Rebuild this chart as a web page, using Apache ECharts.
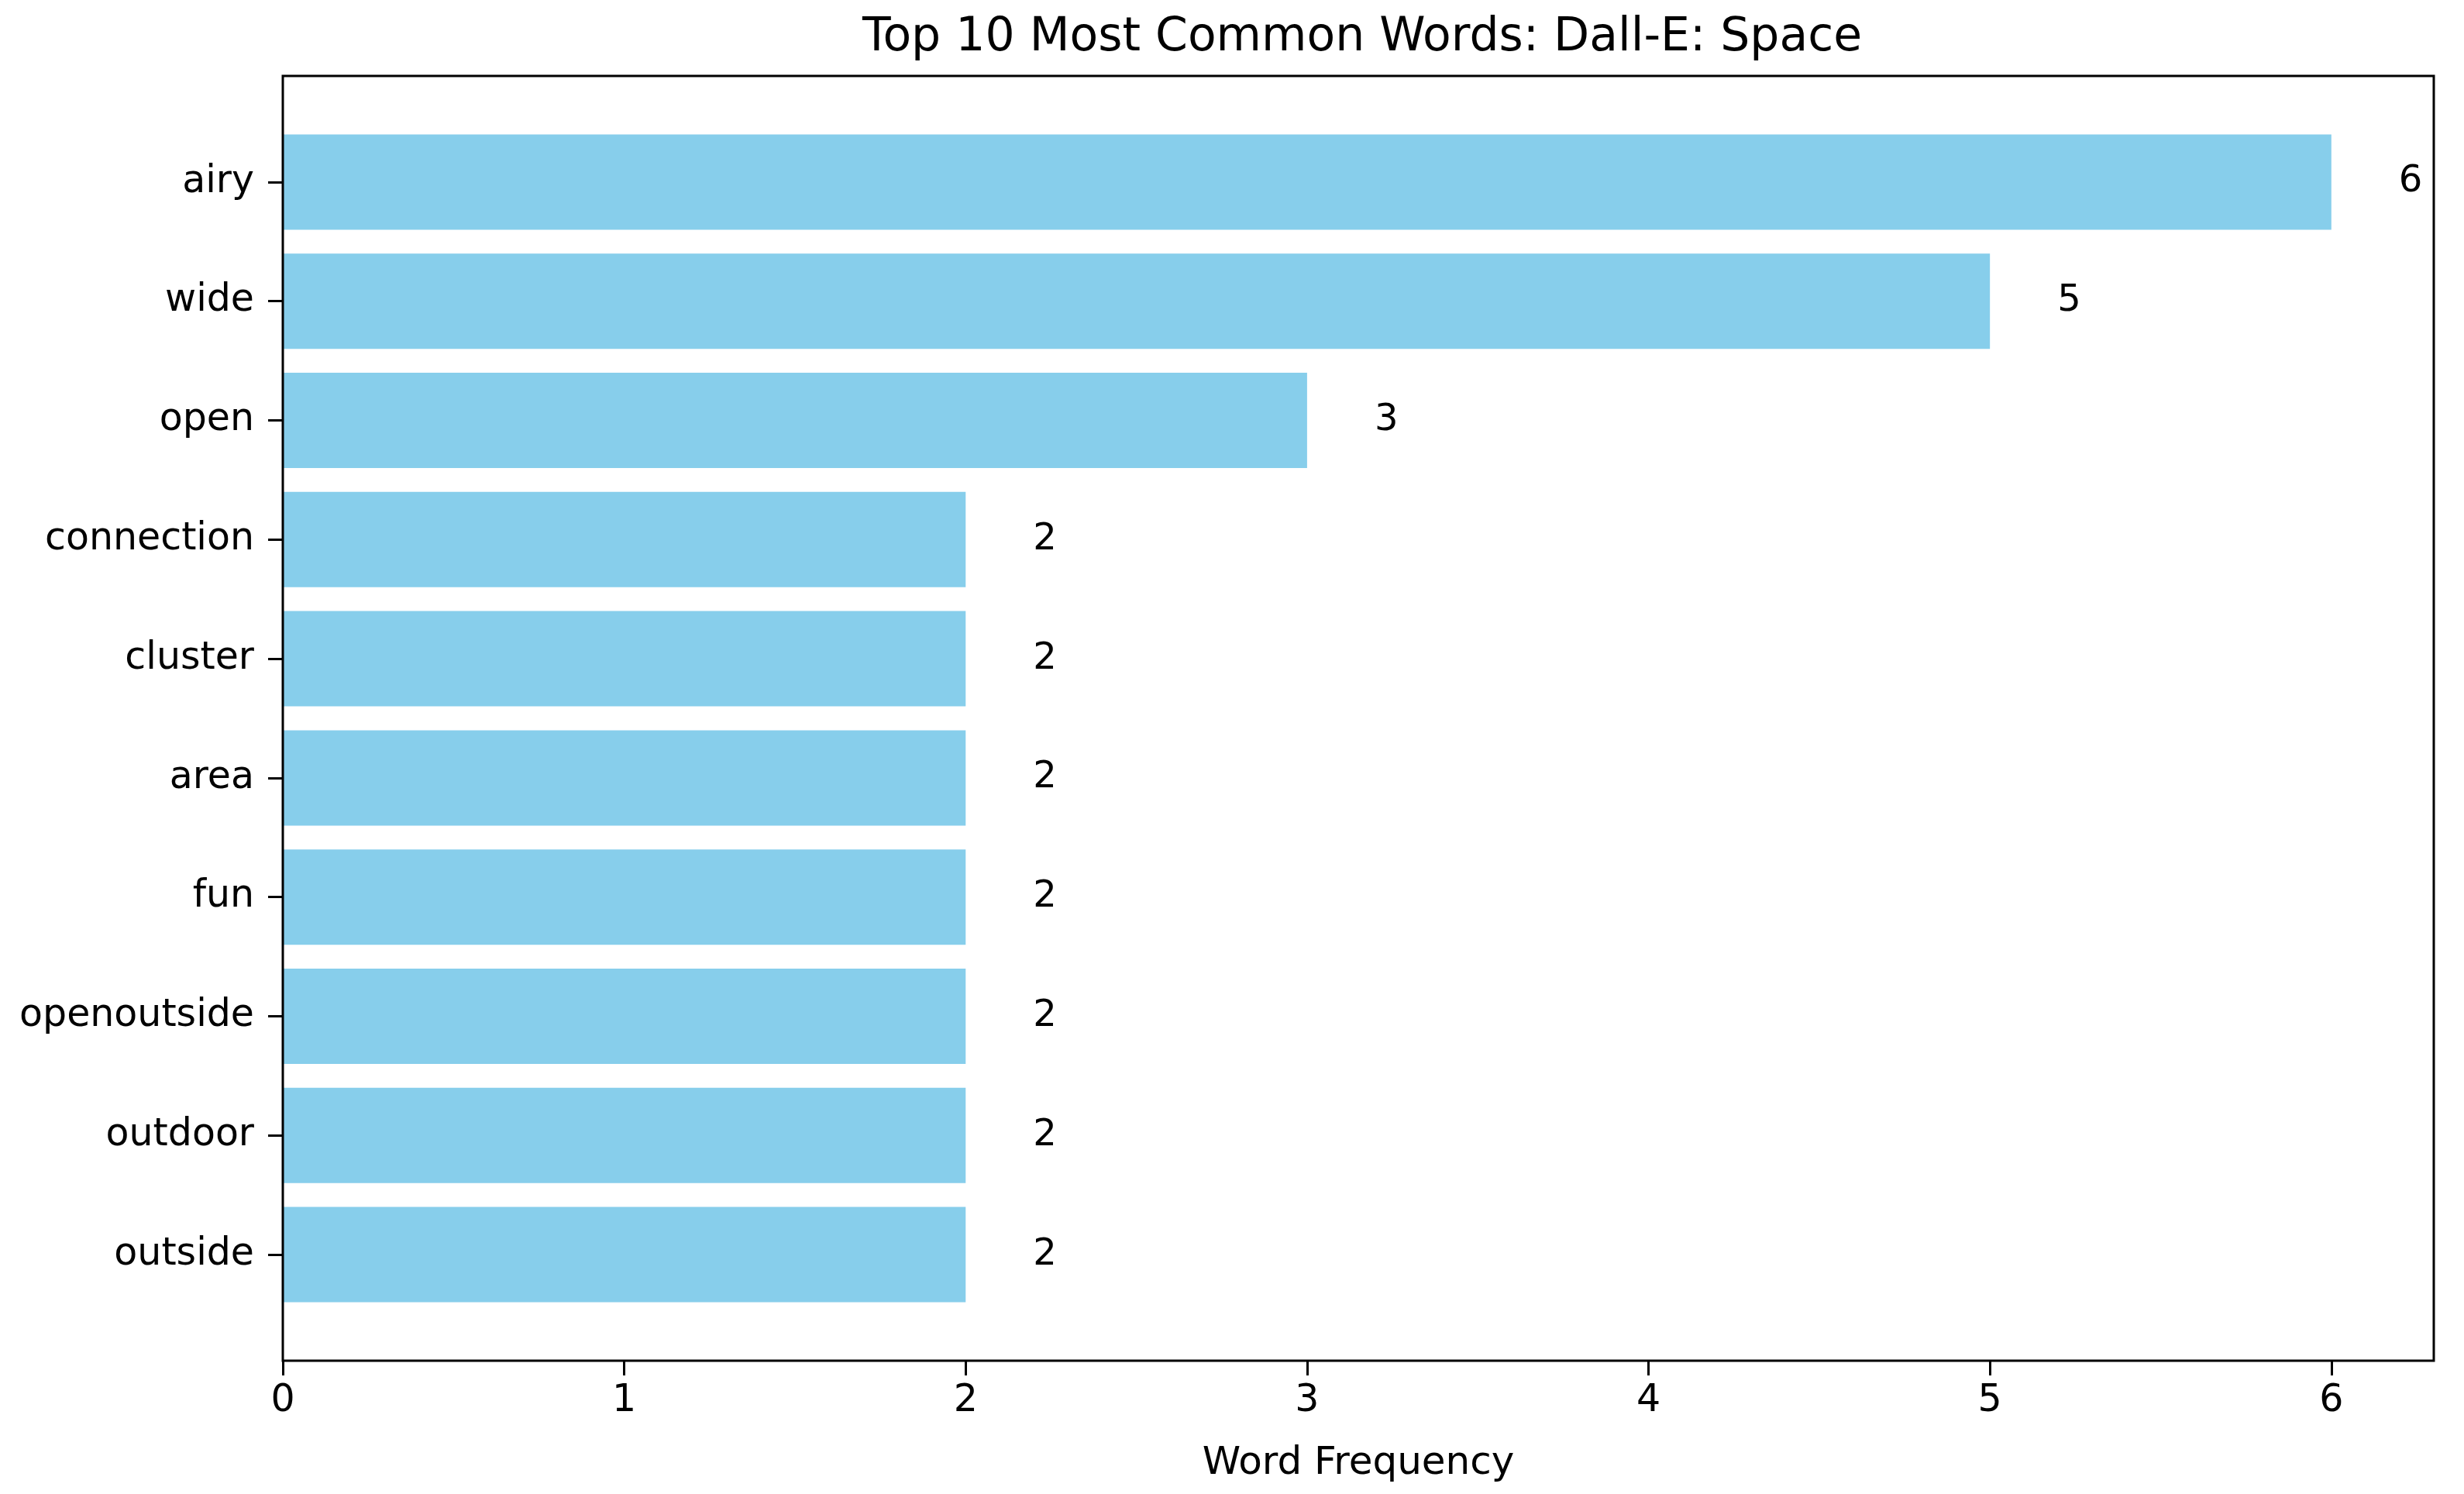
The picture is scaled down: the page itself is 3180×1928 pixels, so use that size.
<!DOCTYPE html>
<html>
<head>
<meta charset="utf-8">
<script src="https://cdn.jsdelivr.net/npm/echarts@6/dist/echarts.min.js"></script>
<style>
  html, body { margin: 0; padding: 0; background: #fff; }
  #chart { width: 3180px; height: 1928px; }
</style>
</head>
<body>
<div id="chart"></div>
<script>
// data
const words = ['airy', 'wide', 'open', 'connection', 'cluster', 'area', 'fun', 'openoutside', 'outdoor', 'outside']
const counts = [6, 5, 3, 2, 2, 2, 2, 2, 2, 2]
const xTicks = [0, 1, 2, 3, 4, 5, 6]

const font = 'DejaVu Sans'
let myChart = echarts.init(document.getElementById('chart'))

// plot frame (matplotlib style box)
const frame = { left: 365, top: 98, right: 3141, bottom: 1756 }

const option = {
  animation: false,
  backgroundColor: '#fff',
  title: {
    text: 'Top 10 Most Common Words: Dall-E: Space',
    left: (frame.left + frame.right) / 2, // centred over the plot, not the page
    textAlign: 'center',
    top: 14,
    textStyle: { fontFamily: font, fontSize: 60, fontWeight: 'normal', color: '#000' }
  },
  grid: { left: 365, right: 39, top: 158, bottom: 232, containLabel: false },
  xAxis: {
    type: 'value',
    min: 0,
    max: 6.3,
    offset: 60,
    splitLine: { show: false },
    axisLine: { show: false },
    axisTick: { show: true, length: 19, lineStyle: { color: '#000', width: 3 }, customValues: xTicks },
    axisLabel: { fontFamily: font, fontSize: 49, color: '#000', margin: 28, customValues: xTicks },
    name: 'Word Frequency',
    nameLocation: 'middle',
    nameGap: 108,
    nameTextStyle: { fontFamily: font, fontSize: 50, color: '#000' }
  },
  yAxis: {
    type: 'category',
    data: words,
    inverse: true,
    axisLine: { show: false },
    axisTick: { show: true, alignWithLabel: true, length: 19, lineStyle: { color: '#000', width: 3 } },
    axisLabel: { fontFamily: font, fontSize: 49, color: '#000', margin: 37, padding: [8, 0, 0, 0] }
  },
  series: [{
    type: 'bar',
    data: counts,
    barCategoryGap: '20%',
    itemStyle: { color: '#87CEEB' },
    label: {
      show: true,
      position: 'right',
      distance: 87,
      fontFamily: font,
      fontSize: 48,
      color: '#000'
    }
  }],
  graphic: [{
    type: 'rect',
    z: 100,
    shape: { x: frame.left, y: frame.top, width: frame.right - frame.left, height: frame.bottom - frame.top },
    style: { fill: null, stroke: '#000', lineWidth: 3 }
  }]
}

myChart.setOption(option)
</script>
</body>
</html>
